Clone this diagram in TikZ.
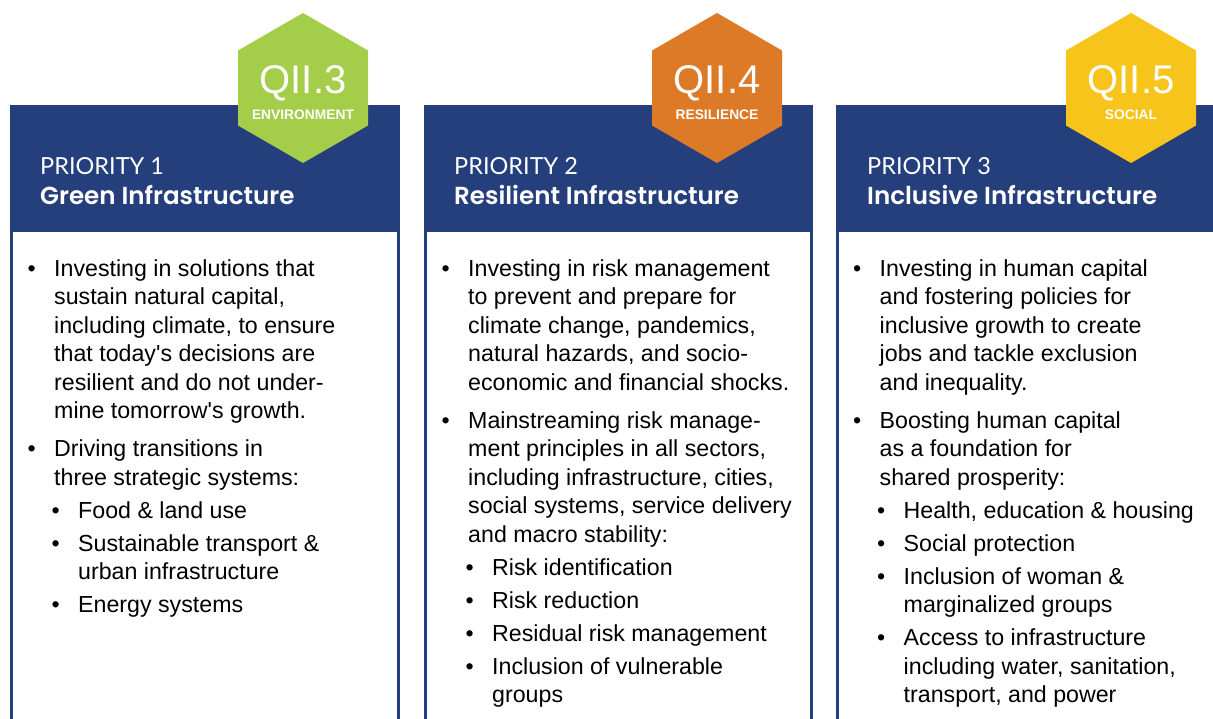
\documentclass[tikz,border=0pt]{standalone}
\usepackage{fontspec}
\setmainfont{Liberation Sans}[Ligatures=TeXOff]
\newfontfamily\hfont{Lato}
\newfontfamily\tfont{Poppins SemiBold}
\definecolor{hdrblue}{HTML}{253F7D}
\definecolor{hexgreen}{HTML}{A4CD4A}
\definecolor{hexorange}{HTML}{DD7A28}
\definecolor{hexyellow}{HTML}{F6C41A}
\newcommand{\bodyfont}{\fontsize{23.2}{28.5}\selectfont}
\newcommand{\bul}{\llap{\textbullet\hspace{18.5pt}}}
\newcommand{\hexat}[3]{\fill[#3] (#1,#2) ++(0,-75) -- ++(65,37.5) -- ++(0,75) -- ++(-65,37.5) -- ++(-65,-37.5) -- ++(0,-75) -- cycle;}
\begin{document}
\begin{tikzpicture}[x=1pt,y=-1pt,
  colframe/.style={draw=hdrblue,line width=3pt,fill=white},
  hdrfill/.style={fill=hdrblue},
  hexcode/.style={text=white,font=\fontsize{40}{40}\selectfont,anchor=base,inner sep=0pt},
  hexlabel/.style={text=white,font=\bfseries\fontsize{13.8}{14}\selectfont,anchor=base,inner sep=0pt},
  prio/.style={text=white,font=\hfont\fontsize{23.5}{25}\selectfont,anchor=base west,inner sep=0pt},
  ptitle/.style={text=white,font=\tfont\fontsize{24.6}{25}\selectfont,anchor=base west,inner sep=0pt},
  item/.style={anchor=north west,inner sep=0pt,align=left,font=\bodyfont},
]
\useasboundingbox (0,0) rectangle (1213,719);
\clip (0,0) rectangle (1213,719);
% column frames
\draw[colframe] (11.5,107) rectangle (398,740);
\draw[colframe] (425.5,107) rectangle (811.5,740);
\draw[colframe] (837,107) rectangle (1240,740);
% headers
\fill[hdrfill] (10,107) rectangle (399.5,232);
\fill[hdrfill] (424,107) rectangle (813,232);
\fill[hdrfill] (835.5,107) rectangle (1240,232);
% hexagons
\hexat{303}{88}{hexgreen}
\hexat{717}{88}{hexorange}
\hexat{1131}{88}{hexyellow}
\node[hexcode] (q3) at (303,94) {QII.3};
\node[hexlabel] (l3) at (303,120) {ENVIRONMENT};
\node[hexcode] (q4) at (717,94) {QII.4};
\node[hexlabel] (l4) at (717,120) {RESILIENCE};
\node[hexcode] (q5) at (1131,94) {QII.5};
\node[hexlabel] (l5) at (1131,120) {SOCIAL};
% header texts
\node[prio] (p1) at (40,175) {PRIORITY 1};
\node[ptitle] (t1) at (40,205) {Green Infrastructure};
\node[prio] (p2) at (454,175) {PRIORITY 2};
\node[ptitle] (t2) at (454,205) {Resilient Infrastructure};
\node[prio] (p3) at (867,175) {PRIORITY 3};
\node[ptitle] (t3) at (867,205) {Inclusive Infrastructure};
% column 1
\node[item] (c1a) at (54,256.05) {\strut\bul Investing in solutions that\\sustain natural capital,\\including climate, to ensure\\that today's decisions are\\resilient and do not under-\\mine tomorrow's growth.};
\node[item] (c1b) at (54,436.55) {\strut\bul Driving transitions in\\three strategic systems:};
\node[item] (c1s1) at (78,498.05) {\strut\bul Food \& land use};
\node[item] (c1s2) at (78,531.05) {\strut\bul Sustainable transport \&\\urban infrastructure};
\node[item] (c1s3) at (78,592.55) {\strut\bul Energy systems};
% column 2
\node[item] (c2a) at (468,256.05) {\strut\bul Investing in risk management\\to prevent and prepare for\\climate change, pandemics,\\natural hazards, and socio-\\economic and financial shocks.};
\node[item] (c2b) at (468,408.05) {\strut\bul Mainstreaming risk manage-\\ment principles in all sectors,\\including infrastructure, cities,\\social systems, service delivery\\and macro stability:};
\node[item] (c2s1) at (492,555.05) {\strut\bul Risk identification};
\node[item] (c2s2) at (492,588.05) {\strut\bul Risk reduction};
\node[item] (c2s3) at (492,621.05) {\strut\bul Residual risk management};
\node[item] (c2s4) at (492,654.05) {\strut\bul Inclusion of vulnerable\\groups};
% column 3
\node[item] (c3a) at (879.5,256.05) {\strut\bul Investing in human capital\\and fostering policies for\\inclusive growth to create\\jobs and tackle exclusion\\and inequality.};
\node[item] (c3b) at (879.5,408.05) {\strut\bul Boosting human capital\\as a foundation for\\shared prosperity:};
\node[item] (c3s1) at (903.5,498.05) {\strut\bul Health, education \& housing};
\node[item] (c3s2) at (903.5,531.05) {\strut\bul Social protection};
\node[item] (c3s3) at (903.5,564.05) {\strut\bul Inclusion of woman \&\\marginalized groups};
\node[item] (c3s4) at (903.5,625.55) {\strut\bul Access to infrastructure\\including water, sanitation,\\transport, and power};
\end{tikzpicture}
\end{document}
